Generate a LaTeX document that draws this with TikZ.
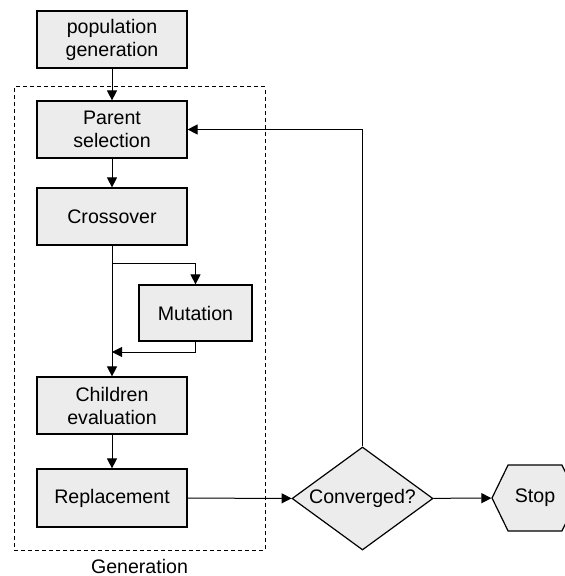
\documentclass[tikz,border=0pt]{standalone}
\usepackage{fontspec}
\setmainfont{Liberation Sans}
\usetikzlibrary{arrows.meta,shapes.geometric,shapes.symbols}

\begin{document}
\begin{tikzpicture}[x=0.5pt,y=-0.5pt,
  font=\fontsize{9.8pt}{11.5pt}\selectfont,
  >={Triangle[length=5pt,width=5pt]},
  line width=0.5pt,
  stage/.style={draw,fill=gray!15,line width=0.6pt,minimum width=75pt,
    minimum height=28.5pt,inner sep=0pt,align=center},
  test/.style={draw,fill=gray!15,line width=0.6pt,shape=diamond,aspect=1.37,
    minimum width=70.5pt,minimum height=51.5pt,inner sep=0pt},
  halt/.style={draw,fill=gray!15,line width=0.6pt,shape=signal,
    signal to=east and west,signal pointer angle=128,
    minimum width=43pt,minimum height=33pt,inner sep=0pt}]
 \useasboundingbox (0,0) rectangle (564,576);

 % one generation of the loop
 \node [draw,dashed,dash pattern=on 2pt off 1.5pt,minimum width=125.5pt,
   minimum height=231.5pt,inner sep=0pt] (gen) at (139.5,318.5) {};
 \node (genname) at (139.5,566) {Generation};

 \node [stage] (pop) at (112,39.5) {population\\generation};
 \node [stage] (parent) at (112,129.5) {Parent\\selection};
 \node [stage] (cross) at (112,216.5) {Crossover};
 \node [stage,minimum width=56.5pt,minimum height=28pt] (mut) at (195.5,313) {Mutation};
 \node [stage] (child) at (112,405.5) {Children\\evaluation};
 \node [stage,minimum height=29pt] (repl) at (112,498) {Replacement};

 \node [test] (conv) at (362.5,498.5) {Converged?};
 \node [halt] (stop) at (535,498) {Stop};

 \coordinate (split) at (112,264);
 \coordinate (join) at (112,352);

 \draw [->] (pop) -- (parent);
 \draw [->] (parent) -- (cross);
 \draw [->] (cross) -- (child);
 \draw [->] (split) -| (mut);
 \draw [->] (mut) |- (join);
 \draw [->] (child) -- (repl);
 \draw [->] (repl) -- (conv);
 \draw [->] (conv) |- (parent);
 \draw [->] (conv) -- (stop);

\end{tikzpicture}
\end{document}
